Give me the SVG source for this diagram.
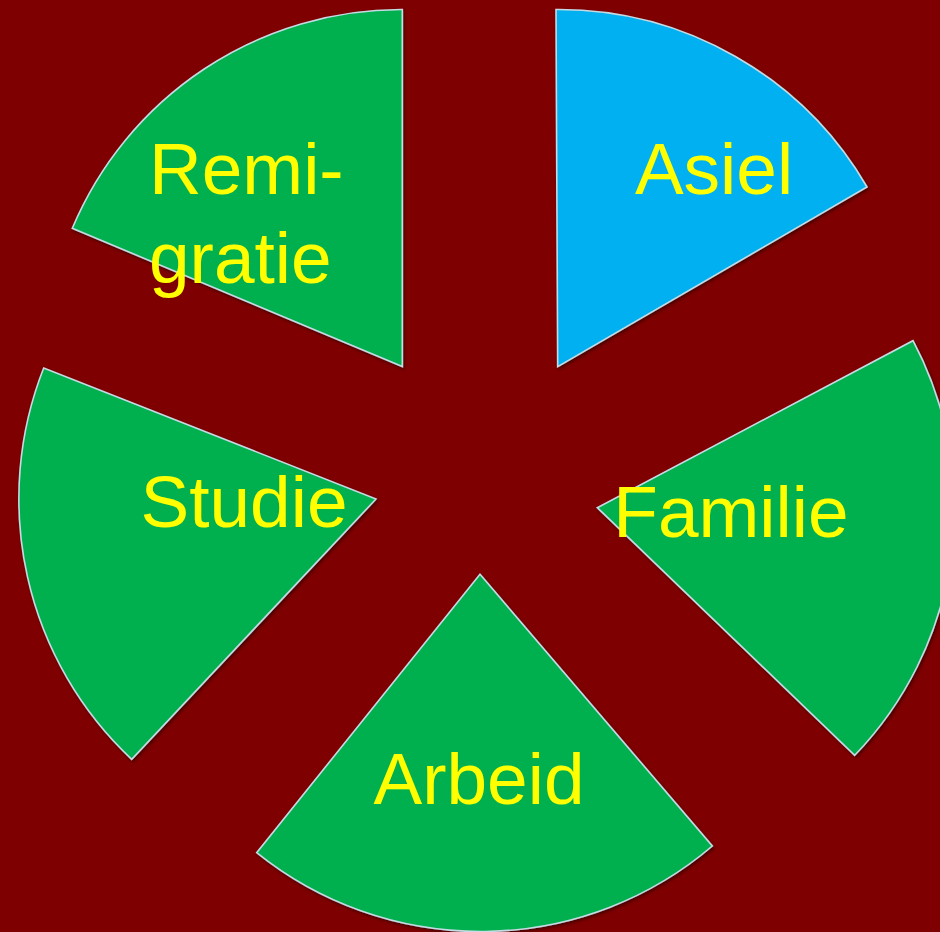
<svg xmlns="http://www.w3.org/2000/svg" width="940" height="932" viewBox="0 0 940 932">
<defs>
<filter id="sh" x="-10%" y="-10%" width="120%" height="120%">
<feDropShadow dx="1.5" dy="2" stdDeviation="1.5" flood-color="#300000" flood-opacity="0.7"/>
</filter>
<style>
.sec{stroke:#c6dbe4;stroke-width:1.6;stroke-linejoin:miter;filter:url(#sh)}
.g{fill:#00b050}
.b{fill:#00b0f0}
.t{fill:#ffff00;font-family:"Liberation Sans",Arial,sans-serif;font-size:73px}
</style>
</defs>
<rect width="940" height="932" fill="#7f0000"/>
<g id="remigratie">
<path class="sec g" d="M402.3,366.5 L402.3,9.5 A357,357 0 0 0 72.3,228.3 Z"/>
<text class="t" x="149" y="194">Remi-</text>
<text class="t" x="149" y="283">gratie</text>
</g>
<g id="asiel">
<path class="sec b" d="M557.7,366.7 L556,9.5 A357,357 0 0 1 867,187 Z"/>
<text class="t" x="714" y="194" text-anchor="middle">Asiel</text>
</g>
<g id="familie">
<path class="sec g" d="M597.3,507.7 L913,340.7 A357,357 0 0 1 854.7,755.3 Z"/>
<text class="t" x="731" y="537" text-anchor="middle">Familie</text>
</g>
<g id="arbeid">
<path class="sec g" d="M480,574.3 L712.3,846 A357,357 0 0 1 256.7,852.7 Z"/>
<text class="t" x="479" y="804" text-anchor="middle">Arbeid</text>
</g>
<g id="studie">
<path class="sec g" d="M376,499 L131.7,759.3 A357,357 0 0 1 43.7,368 Z"/>
<text class="t" x="244" y="527" text-anchor="middle">Studie</text>
</g>
<g id="connectors"/>
</svg>
